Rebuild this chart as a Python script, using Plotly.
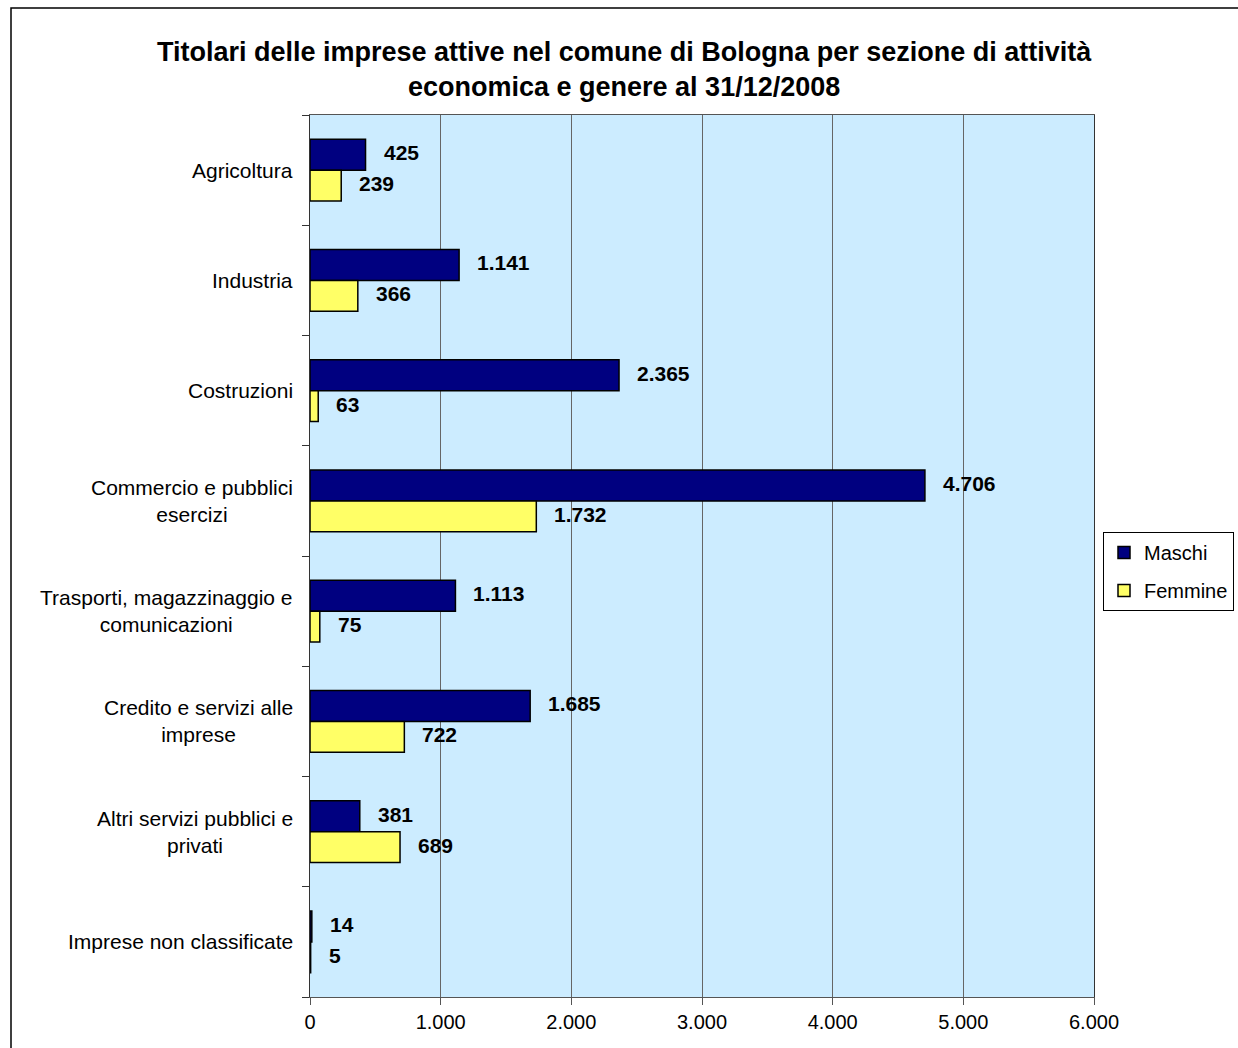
import plotly.graph_objects as go

categories = [
    "Agricoltura",
    "Industria",
    "Costruzioni",
    "Commercio e pubblici<br>esercizi",
    "Trasporti, magazzinaggio e<br>comunicazioni",
    "Credito e servizi alle<br>imprese",
    "Altri servizi pubblici e<br>privati",
    "Imprese non classificate",
]
maschi = [425, 1141, 2365, 4706, 1113, 1685, 381, 14]
femmine = [239, 366, 63, 1732, 75, 722, 689, 5]
x_ticks = [0, 1000, 2000, 3000, 4000, 5000, 6000]

FONT = "Liberation Sans, Arial, sans-serif"
W, H = 1238, 1048
L, R, T, B = 310, 1238 - 1094, 115, 1048 - 997
PW, PH = W - L - R, H - T - B


def px_x(p):
    return (p - L) / PW


def px_y(p):
    return (H - B - p) / PH


def fmt(v):
    return f"{v:,}".replace(",", ".")


pos = list(range(len(categories)))
BARGAP = 0.44
half = (1 - BARGAP) / 4

fig = go.Figure()
fig.add_trace(go.Bar(y=pos, x=maschi, orientation="h", name="Maschi", legendgroup="m",
                     marker=dict(color="#000080", line=dict(color="#000000", width=1.5))))
fig.add_trace(go.Bar(y=pos, x=femmine, orientation="h", name="Femmine", legendgroup="f",
                     marker=dict(color="#FFFF66", line=dict(color="#000000", width=1.5))))

annotations = []
for i, (m, f) in enumerate(zip(maschi, femmine)):
    for v, dy in ((m, -half), (f, half)):
        annotations.append(dict(x=v, y=i + dy, xref="x", yref="y", text=f"<b>{fmt(v)}</b>",
                                showarrow=False, xanchor="left", yanchor="middle", xshift=16,
                                yshift=2,
                                font=dict(family=FONT, size=21, color="#000000")))
for i, c in enumerate(categories):
    annotations.append(dict(x=0, y=i, xref="paper", yref="y", text=c, showarrow=False,
                            xanchor="right", yanchor="middle", xshift=-15, align="center",
                            font=dict(family=FONT, size=21, color="#000000")))
annotations.append(dict(
    x=px_x(624), y=px_y(69), xref="paper", yref="paper",
    text="<b>Titolari delle imprese attive nel comune di Bologna per sezione di attività<br>economica e genere al 31/12/2008</b>",
    showarrow=False, xanchor="center", yanchor="middle", align="center",
    font=dict(family=FONT, size=27, color="#000000")))

fig.update_layout(
    width=W, height=H, autosize=False,
    margin=dict(l=L, r=R, t=T, b=B, pad=0, autoexpand=False),
    paper_bgcolor="#FFFFFF", plot_bgcolor="#CCECFF",
    barmode="group", bargap=BARGAP, bargroupgap=0,
    separators=",.",
    font=dict(family=FONT, size=20, color="#000000"),
    showlegend=True,
    legend=dict(x=px_x(1103), y=px_y(532), xanchor="left", yanchor="top",
                bordercolor="#000000", borderwidth=1, bgcolor="#FFFFFF",
                font=dict(family=FONT, size=20, color="#000000"),
                itemwidth=30, traceorder="grouped", tracegroupgap=9),
    annotations=annotations,
    shapes=[dict(type="rect", xref="paper", yref="paper",
                 x0=px_x(11), x1=px_x(1250), y0=px_y(1060), y1=px_y(8),
                 line=dict(color="#000000", width=1.5), fillcolor="rgba(0,0,0,0)")],
)
fig.update_xaxes(range=[0, 6000], tickvals=x_ticks, tickformat=",d",
                 showgrid=True, gridcolor="#666666", gridwidth=1,
                 showline=True, linecolor="#555555", linewidth=1, mirror=True,
                 ticks="outside", ticklen=7, tickcolor="#555555",
                 tickfont=dict(family=FONT, size=20, color="#000000"),
                 zeroline=False, fixedrange=True)
fig.update_yaxes(range=[len(categories) - 0.5, -0.5], tickvals=pos, showticklabels=False,
                 ticks="", showgrid=False, zeroline=False,
                 showline=True, linecolor="#333333", linewidth=1, mirror=True,
                 minor=dict(tickvals=[p - 0.5 for p in pos] + [len(categories) - 0.5],
                            ticks="outside", ticklen=7, tickcolor="#333333", showgrid=False),
                 fixedrange=True)

fig.write_html("out.html", config={"displayModeBar": False, "responsive": False},
               post_script="document.body.style.margin='0';document.body.style.overflow='hidden';")
